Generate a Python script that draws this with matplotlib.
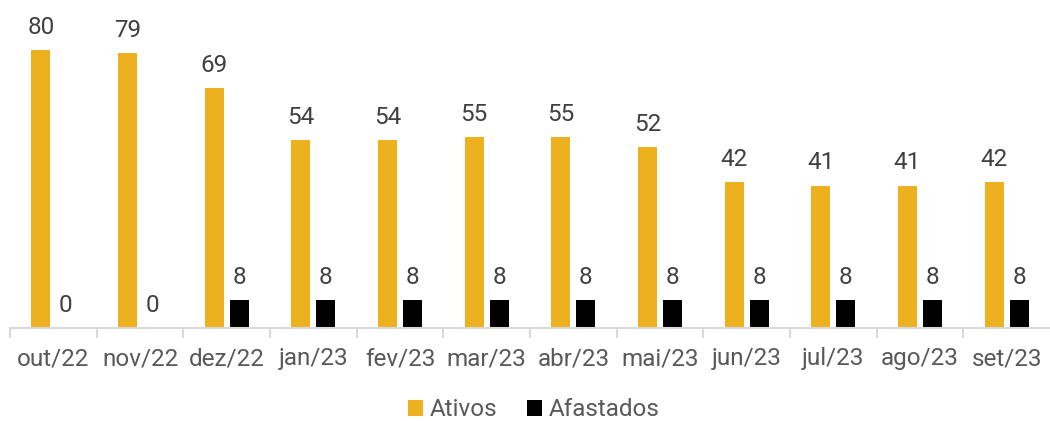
import numpy as np
import matplotlib.pyplot as plt

plt.rcParams['font.family'] = ['Roboto', 'DejaVu Sans']

# ── Data ──────────────────────────────────────────────────────────
meses = ['out/22', 'nov/22', 'dez/22', 'jan/23', 'fev/23', 'mar/23',
         'abr/23', 'mai/23', 'jun/23', 'jul/23', 'ago/23', 'set/23']
ativos = [80, 79, 69, 54, 54, 55, 55, 52, 42, 41, 41, 42]
afastados = [0, 0, 8, 8, 8, 8, 8, 8, 8, 8, 8, 8]

YELLOW = '#EDB11F'
BLACK = '#000000'
LABEL = '#404040'
TEXT = '#595959'
AXIS = '#D9D9D9'

fig = plt.figure(figsize=(10.5, 4.21), dpi=100)
ax = fig.add_axes([10 / 1050, 93 / 421, 1040 / 1050, 328 / 421])

x = np.arange(len(meses))
w = 0.22
off = 0.145
b1 = ax.bar(x - off, ativos, w, color=YELLOW, label='Ativos', zorder=2)
b2 = ax.bar(x + off, afastados, w, color=BLACK, label='Afastados', zorder=2)

for bars, vals in [(b1, ativos), (b2, afastados)]:
    for r, v in zip(bars, vals):
        ax.text(r.get_x() + r.get_width() / 2, v + 3.2, str(v),
                ha='center', va='bottom', fontsize=17.5, color=LABEL)

ax.set_xlim(-0.5, len(meses) - 0.5)
ax.set_ylim(0, 328 / 3.475)

# axis line + separators between categories
for s in ['top', 'right', 'left']:
    ax.spines[s].set_visible(False)
ax.spines['bottom'].set_color(AXIS)
ax.spines['bottom'].set_linewidth(1.5)
ax.set_yticks([])
ax.set_xticks(x)
ax.set_xticklabels(meses, fontsize=17.5, color=TEXT)
ax.tick_params(axis='x', which='major', length=0, pad=14)
ax.set_xticks(np.arange(-0.5, len(meses) - 0.5, 1.0), minor=True)
ax.tick_params(axis='x', which='minor', length=7, width=1.5, color=AXIS)

leg = fig.legend(handles=[b1, b2], loc='center', bbox_to_anchor=(534 / 1050, 1 - 410 / 421),
                 ncol=2, frameon=False, fontsize=17.5, handlelength=0.6,
                 handleheight=0.6, handletextpad=0.3, columnspacing=1.2,
                 borderpad=0.1)
for t in leg.get_texts():
    t.set_color(TEXT)

fig.savefig('out.png', dpi=100)
